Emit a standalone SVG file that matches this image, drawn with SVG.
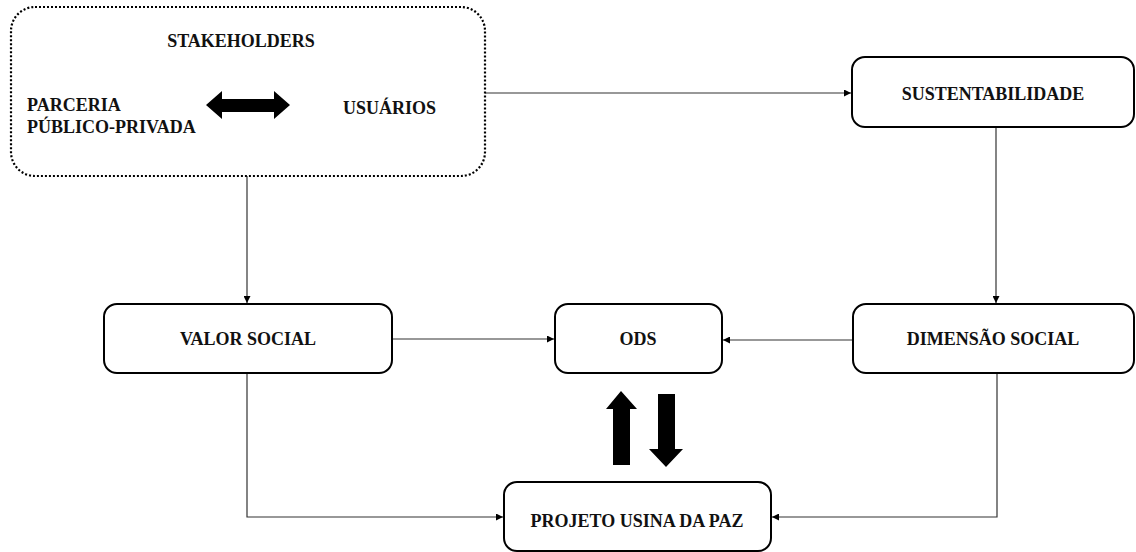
<svg xmlns="http://www.w3.org/2000/svg" width="1136" height="552" viewBox="0 0 1136 552">
<style>
.box{fill:#fff;stroke:#000;stroke-width:2}
.dot{fill:#fff;stroke:#000;stroke-width:2.2;stroke-dasharray:2 2}
.t{font-family:"Liberation Serif","Times New Roman","DejaVu Serif",serif;font-weight:bold;font-size:18px;fill:#111}
.c{text-anchor:middle}
.ln{fill:none;stroke:#333;stroke-width:1.2}
.big{fill:#000}
</style>
<defs>
<marker id="ah" viewBox="0 0 10 10" refX="10" refY="5" markerWidth="7" markerHeight="7" markerUnits="userSpaceOnUse" orient="auto">
<path d="M0,0 L10,5 L0,10 z" fill="#000"/>
</marker>
</defs>
<g id="connectors">
<path class="ln" d="M485,93 H851" marker-end="url(#ah)"/>
<path class="ln" d="M996,127 V303" marker-end="url(#ah)"/>
<path class="ln" d="M247,176 V303" marker-end="url(#ah)"/>
<path class="ln" d="M392,339 H554" marker-end="url(#ah)"/>
<path class="ln" d="M853,340 H723" marker-end="url(#ah)"/>
<path class="ln" d="M247,373 V517 H503" marker-end="url(#ah)"/>
<path class="ln" d="M997,373 V517 H772" marker-end="url(#ah)"/>
</g>
<g id="stakeholders">
<rect class="dot" x="11" y="7" width="474" height="169" rx="24"/>
<text class="t c" x="241" y="47">STAKEHOLDERS</text>
<text class="t" x="27" y="111">PARCERIA</text>
<text class="t" x="27" y="133">PÚBLICO-PRIVADA</text>
<text class="t" x="343" y="114">USUÁRIOS</text>
<path class="big" d="M206,105 L222,91 V99 H274 V91 L290,105 L274,119 V112 H222 V119 Z"/>
</g>
<g id="sustentabilidade">
<rect class="box" x="852" y="57" width="282" height="70" rx="13"/>
<text class="t c" x="993" y="100">SUSTENTABILIDADE</text>
</g>
<g id="valor-social">
<rect class="box" x="104" y="304" width="288" height="69" rx="13"/>
<text class="t c" x="248" y="345">VALOR SOCIAL</text>
</g>
<g id="ods">
<rect class="box" x="555" y="304" width="167" height="69" rx="13"/>
<text class="t c" x="638" y="345">ODS</text>
</g>
<g id="dimensao-social">
<rect class="box" x="853" y="304" width="281" height="69" rx="13"/>
<text class="t c" x="993" y="345">DIMENSÃO SOCIAL</text>
</g>
<g id="projeto">
<rect class="box" x="504" y="482" width="267" height="69" rx="13"/>
<text class="t c" x="637" y="527">PROJETO USINA DA PAZ</text>
</g>
<g id="arrows-ods-projeto">
<path class="big" d="M621,391 L637,409 H630 V465 H613 V409 H606 Z"/>
<path class="big" d="M658,394 H675 V449 H683 L666,467 L649,449 H658 Z"/>
</g>
</svg>
